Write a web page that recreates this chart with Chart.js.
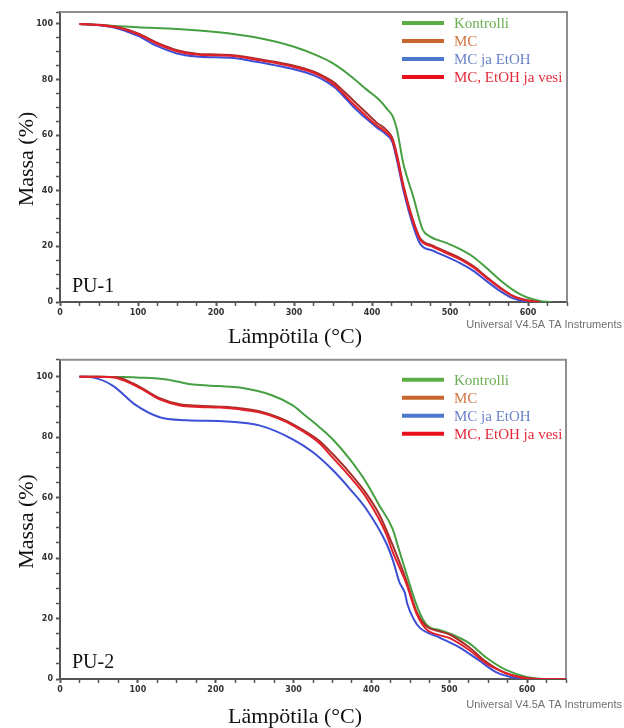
<!DOCTYPE html>
<html>
<head>
<meta charset="utf-8">
<script src="https://cdn.jsdelivr.net/npm/chart.js@4.4.1/dist/chart.umd.min.js"></script>
<style>
  body { margin: 0; background: #fff; }
  #wrap { position: relative; width: 624px; height: 728px; }
  canvas { position: absolute; left: 0; }
  #pu1 { top: 0; }
  #pu2 { top: 352px; }
</style>
</head>
<body>
<div id="wrap">
  <canvas id="pu1" width="624" height="352"></canvas>
  <canvas id="pu2" width="624" height="376"></canvas>
</div>
<script>
// series names and colours (plot line / legend line / legend text)
const seriesNames = ['Kontrolli', 'MC', 'MC ja EtOH', 'MC, EtOH ja vesi'];
const lineColors = ['#46a042', '#a8302a', '#3c4fd6', '#e3202a'];
const legendLineColors = ['#5cae44', '#c8642e', '#4a76cc', '#e8101c'];
const legendTextColors = ['#6aae52', '#d07844', '#6a84c8', '#e42a3a'];

// PU-1 TGA curves: [temperature (°C), mass (%)]
const pu1Kontrolli = [[25,100],[50,99.6],[75,99.2],[100,98.8],[150,98.2],[200,97.1],[250,95.2],[300,91.8],[330,88.6],[350,85.8],[372,81.4],[394,76.2],[410,72.5],[420,69.2],[427,66.5],[432,62],[440,50],[453,37.8],[465,26],[474,23.6],[496,21.2],[513,19],[530,16.2],[547,12.2],[564,7.9],[581,4.3],[599,1.6],[615,0.4],[630,0]];
const pu1MC = [[25,100],[50,99.7],[75,98.8],[100,96.6],[125,93.2],[150,90.6],[175,89.3],[200,89],[225,88.7],[250,87.6],[275,86.4],[300,85],[325,82.9],[342,80.6],[352,78.8],[363,76],[376,72.5],[390,68.8],[406,64.5],[418,62],[426,59],[432,53],[440,42.4],[453,29.2],[462,22.8],[478,20.3],[513,15.8],[530,12.9],[547,9],[564,5.3],[581,2.2],[599,0.6],[615,0]];
const pu1EtOH = [[25,100],[50,99.5],[75,98.3],[100,95.7],[125,92],[150,89.4],[175,88.3],[200,88],[225,87.7],[250,86.5],[275,85.2],[300,83.7],[325,81.6],[342,79.2],[352,77.2],[363,74.2],[376,70.2],[390,66.6],[406,62.8],[418,60.3],[426,57.6],[432,51],[440,40.5],[453,27.2],[462,20.8],[478,18.5],[513,14],[530,11.2],[547,7.5],[564,4],[581,1.3],[599,0.2],[610,0]];
const pu1Vesi = [[25,100],[50,99.6],[75,98.6],[100,96.3],[125,92.8],[150,90.2],[175,89],[200,88.7],[225,88.4],[250,87.2],[275,86],[300,84.5],[325,82.4],[342,80],[352,78],[363,75],[376,71.2],[390,67.5],[406,63.5],[418,61],[426,58.3],[432,52],[440,41.4],[453,28.4],[462,22.3],[478,19.8],[513,15.3],[530,12.4],[547,8.6],[564,5],[581,2],[599,0.5],[615,0]];

// PU-2 TGA curves
const pu2Kontrolli = [[25,100],[51,100],[75,99.9],[103,99.7],[137,99.1],[171,97.4],[205,96.9],[231,96.4],[273,93.8],[299,90.5],[315,87.2],[333,83.4],[350,79.4],[372,72.8],[393,65.2],[410,57.5],[427,49.8],[436,42.3],[449,31.5],[458,24.5],[466,19.8],[474,17.2],[487,16.2],[500,15.1],[526,11.8],[547,7.2],[573,3],[599,0.7],[620,0]];
const pu2MC = [[25,100],[50,100],[73,99.8],[94,97.8],[103,96.6],[128,92.9],[154,90.9],[179,90.4],[205,90.1],[231,89.6],[256,88.6],[280,86.6],[299,84.3],[333,78.8],[350,74.5],[372,68.3],[393,61.5],[410,54.5],[427,44.5],[445,32.5],[458,22.3],[470,17.6],[487,15.8],[500,14.8],[526,10.4],[547,5.8],[573,1.9],[600,0.3],[615,0]];
const pu2EtOH = [[25,100],[43,99.7],[68,97],[98,90.5],[128,86.6],[163,85.6],[214,85.2],[256,83.9],[299,79.3],[325,75],[350,69.2],[372,63],[393,56.4],[419,45],[428,39],[436,32],[443,28.5],[446,25],[455,19.5],[462,17],[487,13.8],[513,10.5],[538,6.2],[560,2.3],[586,0.3],[600,0]];
const pu2Vesi = [[25,100],[50,100],[70,99.7],[94,97.4],[103,96.2],[128,92.5],[154,90.5],[179,90],[205,89.8],[231,89.2],[256,88.2],[280,86.2],[299,83.9],[333,78.1],[350,73.3],[372,67],[393,60.2],[419,48],[427,42.3],[445,31.5],[458,21.6],[470,16.6],[487,14.5],[500,13.6],[526,9.5],[547,5.2],[573,1.9],[595,0.3],[610,0],[650,0]];

// axis ranges
const tempMax = 650;
const pu1MassMax = 104.3;
const pu2MassMax = 105.6;

const serif = '"Liberation Serif", "Times New Roman", serif';

// frame, inline legend and the text around each panel
const decorPlugin = {
  id: 'decor',
  beforeDatasetsDraw(chart) {
    const { ctx, chartArea: a } = chart;
    ctx.save();
    ctx.strokeStyle = '#8e8e8e';
    ctx.lineWidth = 2;
    ctx.beginPath();
    ctx.moveTo(a.left, a.top);
    ctx.lineTo(a.right, a.top);
    ctx.lineTo(a.right, a.bottom);
    ctx.stroke();
    ctx.restore();
  },
  afterDraw(chart, args, o) {
    const { ctx, chartArea: a } = chart;
    ctx.save();

    // legend in the upper right corner
    ctx.font = '15px ' + serif;
    ctx.textBaseline = 'middle';
    ctx.textAlign = 'left';
    seriesNames.forEach((name, i) => {
      const y = a.top + o.legendTop + i * 18;
      ctx.strokeStyle = legendLineColors[i];
      ctx.lineWidth = 4;
      ctx.beginPath();
      ctx.moveTo(a.left + 342, y);
      ctx.lineTo(a.left + 384, y);
      ctx.stroke();
      ctx.fillStyle = legendTextColors[i];
      ctx.fillText(name, a.left + 394, y + 1);
    });

    // panel label
    ctx.fillStyle = '#111';
    ctx.textBaseline = 'alphabetic';
    ctx.font = '20px ' + serif;
    ctx.fillText(o.panel, 72, o.panelY);

    // axis titles
    ctx.font = '22px ' + serif;
    ctx.textAlign = 'center';
    ctx.fillText('Lämpötila (°C)', 295, o.xTitleY);
    ctx.save();
    ctx.translate(27, (a.top + a.bottom) / 2 + 2);
    ctx.rotate(-Math.PI / 2);
    ctx.textBaseline = 'middle';
    ctx.fillText('Massa (%)', 0, 0);
    ctx.restore();

    // instrument note
    ctx.font = '11px "Liberation Sans", Arial, sans-serif';
    ctx.fillStyle = '#707070';
    ctx.textAlign = 'right';
    ctx.textBaseline = 'middle';
    ctx.fillText('Universal V4.5A TA Instruments', 622, o.noteY);
    ctx.restore();
  }
};

function makeChart(id, series, massMax, o) {
  const tickFont = { family: '"DejaVu Sans", sans-serif', size: 8, weight: 'bold' };
  return new Chart(document.getElementById(id), {
    type: 'line',
    data: {
      datasets: series.map((pts, i) => ({
        label: seriesNames[i],
        data: pts.map(p => ({ x: p[0], y: p[1] })),
        borderColor: lineColors[i],
        borderWidth: 2,
        pointRadius: 0,
        fill: false,
        cubicInterpolationMode: 'monotone',
        order: [3, 1, 2, 0][i]
      }))
    },
    options: {
      responsive: false,
      animation: false,
      devicePixelRatio: 1,
      layout: { padding: { top: o.padTop, right: o.padRight, left: 0, bottom: 0 } },
      plugins: {
        legend: { display: false },
        tooltip: { enabled: false },
        decor: o
      },
      scales: {
        x: {
          type: 'linear',
          min: 0,
          max: tempMax,
          afterFit: s => { s.height = o.xAxisHeight; },
          border: { color: '#555', width: 2 },
          grid: {
            drawOnChartArea: false,
            tickLength: 4,
            tickColor: '#555',
            tickWidth: c => (c.tick && c.tick.value % 100 === 0 ? 2 : 1.5)
          },
          ticks: {
            stepSize: 25,
            autoSkip: false,
            maxRotation: 0,
            padding: 2,
            color: '#333',
            font: tickFont,
            callback: v => (v % 100 === 0 ? v : '')
          }
        },
        y: {
          min: 0,
          max: massMax,
          afterFit: s => { s.width = 60; },
          border: { color: '#555', width: 2 },
          grid: {
            drawOnChartArea: false,
            tickLength: 4,
            tickColor: '#555',
            tickWidth: c => (c.tick && c.tick.value % 20 === 0 ? 2 : 1.5)
          },
          ticks: {
            stepSize: 5,
            autoSkip: false,
            padding: 3,
            color: '#333',
            font: tickFont,
            callback: v => (v % 20 === 0 ? v : '')
          }
        }
      }
    },
    plugins: [decorPlugin]
  });
}

makeChart('pu1', [pu1Kontrolli, pu1MC, pu1EtOH, pu1Vesi], pu1MassMax, {
  padTop: 12, padRight: 57, xAxisHeight: 50,
  legendTop: 11, panel: 'PU-1', panelY: 292, xTitleY: 343, noteY: 325
});

makeChart('pu2', [pu2Kontrolli, pu2MC, pu2EtOH, pu2Vesi], pu2MassMax, {
  padTop: 5, padRight: 58, xAxisHeight: 49,
  legendTop: 20, panel: 'PU-2', panelY: 316, xTitleY: 371, noteY: 353
});
</script>
</body>
</html>
